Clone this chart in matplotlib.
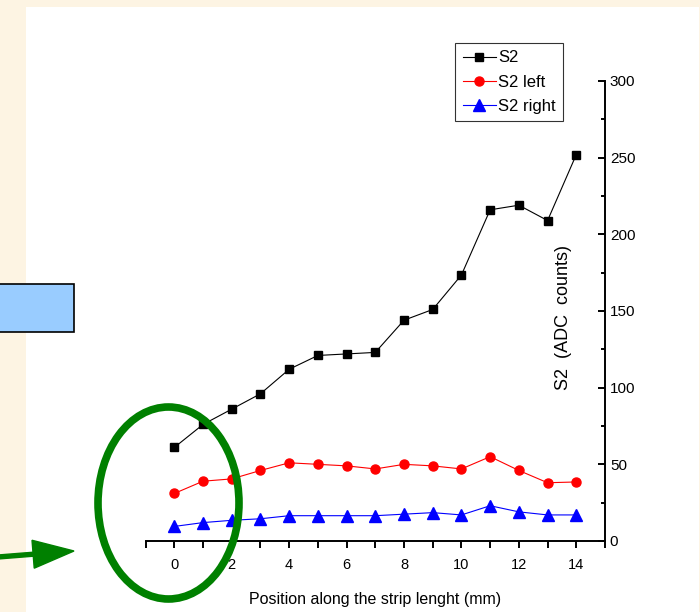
import numpy as np
import matplotlib
matplotlib.use("Agg")
import matplotlib.pyplot as plt
from matplotlib.patches import Rectangle, Ellipse, FancyArrow

plt.rcParams["font.family"] = ["Liberation Sans", "DejaVu Sans"]

# Signal amplitude vs. position along the strip
position = np.arange(0, 15)
s2 = [61, 76, 86, 96, 112, 121, 122, 123, 144, 151, 173.5, 216, 219, 209, 252]
s2_left = [31, 39, 40.5, 46, 51, 50, 49, 47, 50, 49, 47, 55, 46, 38, 38.5]
s2_right = [9.5, 12, 13.5, 14.5, 16.5, 16.5, 16.5, 16.5, 17.5, 18.5, 17, 23, 19, 17, 17]

x_major = [0, 2, 4, 6, 8, 10, 12, 14]
x_minor = [-1, 1, 3, 5, 7, 9, 11, 13, 15]
y_major = [0, 50, 100, 150, 200, 250, 300]

W, H = 700, 612
fig = plt.figure(figsize=(W / 100, H / 100), dpi=100)
fig.patch.set_facecolor("#fdf4e3")

# white slide panel
fig.add_artist(Rectangle((26, 0), 673, H - 7, transform=None,
                         facecolor="white", edgecolor="none", zorder=-5))
# light blue box on the left
fig.add_artist(Rectangle((-3, H - 332), 77, 48, transform=None,
                         facecolor="#99ccff", edgecolor="black", linewidth=1.2, zorder=2))

ax = fig.add_axes([145.6 / W, (H - 541) / H, (605 - 145.6) / W, (541 - 81) / H])
ax.set_facecolor("none")

ax.plot(position, s2, color="black", lw=0.8, marker="s", ms=5.5, label="S2")
ax.plot(position, s2_left, color="red", lw=0.8, marker="o", ms=6.5, label="S2 left")
ax.plot(position, s2_right, color="blue", lw=0.8, marker="^", ms=8, label="S2 right")

ax.set_xlim(-1, 15)
ax.set_ylim(0, 300)

ax.spines["left"].set_visible(False)
ax.spines["top"].set_visible(False)
ax.spines["bottom"].set_linewidth(1.4)
ax.spines["right"].set_linewidth(1.4)

ax.set_xticks(x_major)
ax.set_xticks(x_minor, minor=True)
ax.set_xticklabels([str(v) for v in x_major], fontsize=10.5)
ax.tick_params(axis="x", which="both", direction="out", length=5, width=1.4, pad=7.5)

ax.yaxis.tick_right()
ax.set_yticks(y_major)
ax.set_yticks(np.arange(25, 300, 50), minor=True)
ax.set_yticklabels([str(v) for v in y_major], fontsize=11)
ax.tick_params(axis="y", which="major", direction="in", length=5, width=1.4, pad=3.5)
ax.tick_params(axis="y", which="minor", direction="in", length=3, width=1.4)

ax.text(13.55, 146, "S2  (ADC  counts)", rotation=90, ha="center", va="center",
        fontsize=13)
ax.set_xlabel("Position along the strip lenght (mm)", fontsize=11.5, labelpad=14)

leg = ax.legend(loc="upper left", bbox_to_anchor=(455 / W, 1 - 43 / H),
                bbox_transform=fig.transFigure, borderaxespad=0, fancybox=False,
                edgecolor="black", fontsize=12, handlelength=2.0, handletextpad=0.15,
                labelspacing=0.55, borderpad=0.45)
leg.get_frame().set_linewidth(0.8)

# green circle and arrow drawn on top
fig.add_artist(Ellipse((168.5, H - 503), 141, 192, transform=None, fill=False,
                       edgecolor="#008000", linewidth=5.5, zorder=5))
fig.add_artist(FancyArrow(-2, H - 557, 76, 6, width=4, head_width=28, head_length=41,
                          length_includes_head=True, transform=None,
                          color="#008000", zorder=5))

fig.savefig("out.png", dpi=100, facecolor=fig.get_facecolor())
